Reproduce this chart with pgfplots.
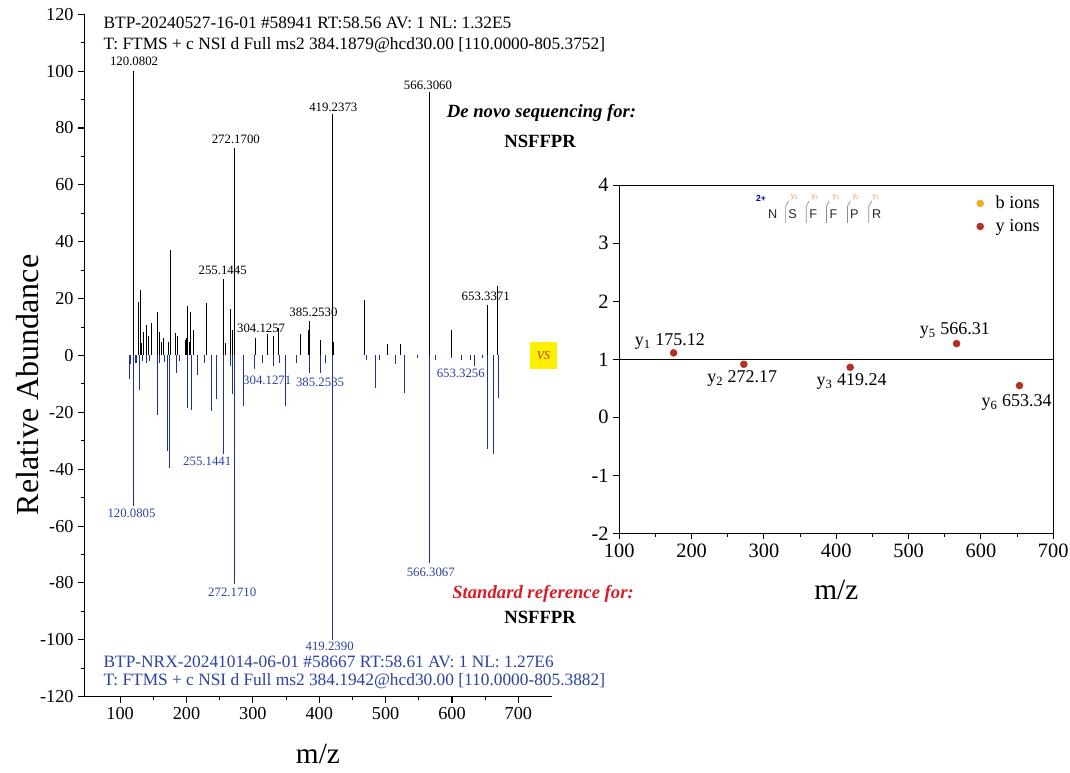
\documentclass[border=0pt]{standalone}
\usepackage{fontspec}
\setmainfont{Liberation Serif}
\newfontfamily\arialfont{Liberation Sans}
\usepackage{pgfplots}
\pgfplotsset{compat=1.18}

\definecolor{specblue}{RGB}{30,50,150}
\definecolor{txtblue}{RGB}{45,65,160}
\definecolor{refred}{RGB}{215,30,40}
\definecolor{yion}{RGB}{178,48,40}
\definecolor{bion}{RGB}{245,170,40}
\definecolor{fragorange}{RGB}{235,150,90}
\definecolor{vsyellow}{RGB}{255,240,0}
\definecolor{vsred}{RGB}{190,50,30}

\newcommand\peakfont{\fontsize{9.6}{11}\selectfont}
\newcommand\headfont{\fontsize{13}{15}\selectfont}
\newcommand\seqfont{\fontsize{14}{16}\selectfont\bfseries}
\newcommand\aafont{\arialfont\fontsize{9.5}{10}\selectfont}
\newcommand\fragfont{\arialfont\fontsize{5.5}{6}\selectfont}
\newcommand\ionfont{\fontsize{13.5}{16}\selectfont}

\begin{document}
\begin{tikzpicture}
% ---------------- mirror spectrum ----------------
\begin{axis}[
  scale only axis, width=350.5pt, height=511.8pt,
  xmin=46, xmax=750, ymin=-120, ymax=120,
  axis x line*=bottom, axis y line*=left,
  axis line style={line width=1pt},
  tick align=outside,
  xtick={100,200,...,700}, ytick={-120,-100,...,120},
  minor x tick num=1, minor y tick num=1,
  major tick length=4.5pt, minor tick length=2.5pt,
  every tick/.style={line width=0.8pt, black},
  tick label style={font=\fontsize{13.7}{16}\selectfont},
  /pgf/number format/assume math mode=true,
  xlabel={m/z}, ylabel={Relative Abundance},
  xlabel style={font=\fontsize{22}{26}\selectfont, at={(axis description cs:0.5,-0.084)}, anchor=center},
  ylabel style={font=\fontsize{24}{28}\selectfont, at={(axis description cs:-0.1205,0.4568)}, anchor=center},
  clip=false,
]
% sample spectrum (upward)
\addplot[ycomb, black, line width=0.75pt] coordinates {
  (120.0802,100) (128.1,18.7) (130.1,23.2) (132.1,4.5) (135.6,8.2) (140.2,10.8)
  (143.2,7) (147.7,11.5) (156.2,15.3) (158.7,8.2) (162.2,4.6) (165.8,6)
  (173.3,4.6) (175.3,37.1) (183.3,7.8) (186.3,7) (197.9,5.3) (199.4,6)
  (202.0,17.3) (204.4,4.6) (206.5,15.2) (211.0,8.8) (230.6,18.4)
  (255.1445,27) (258.7,4.5) (266.2,16.2) (269.7,9.1) (272.1700,73)
  (304.1257,6) (321.9,7.6) (331.5,6.9) (338.5,9.6) (371.6,7.4)
  (383.5,9) (385.2530,12.2) (401.2,5.3) (419.2373,85) (421.5,4.6)
  (468.5,19.6) (502.6,3.9) (521.7,3.9) (566.3060,92.5) (598.6,9)
  (653.3371,17.7) (668.3,24.6)
};
% reference spectrum (downward)
\addplot[ycomb, specblue, line width=0.75pt] coordinates {
  (113.4,-8.2) (116.0,-3.0) (120.0805,-53) (122.5,-2.5) (125.3,-2.6) (129.0,-12.3)
  (134.0,-2.0) (140.4,-2.6) (145.0,-2.0) (156.5,-21.1) (160.0,-2.5) (167.2,-2.3)
  (171.5,-33.6) (174.2,-39.5) (184.5,-6.3) (190.0,-2.0) (201.7,-18.4)
  (207.1,-19.3) (216.7,-7) (227.4,-2.6) (237.7,-19.5) (244.8,-15.2)
  (255.1441,-34.8) (266.8,-3.8) (270.0,-13.4) (272.1710,-80.5)
  (285.6,-17.8) (302.8,-4.9) (314.6,-2.6) (331.4,-3.8) (340.0,-2.5)
  (349.6,-17.8) (365.7,-2.6) (385.2535,-6.3) (402.3,-6.3) (409.4,-2.6)
  (419.2390,-100) (471.1,-1.5) (484.1,-11.4) (491.0,-1.5) (515.3,-3.1)
  (528.7,-13.1) (548.7,-1.0) (566.3067,-73) (575.5,-1.5) (599.8,-1.0)
  (614.8,-1.5) (628.3,-1.5) (633.6,-3.7) (645.4,-1.0) (653.3256,-33)
  (662.1,-34.8) (670.3,-14.9)
};
% peak annotations, sample
\node[font=\peakfont] at (axis cs:121,103.3) {120.0802};
\node[font=\peakfont] at (axis cs:274.3,75.9) {272.1700};
\node[font=\peakfont] at (axis cs:254.5,30) {255.1445};
\node[font=\peakfont] at (axis cs:312.4,9.5) {304.1257};
\node[font=\peakfont] at (axis cs:391.2,15.2) {385.2530};
\node[font=\peakfont] at (axis cs:421.2,87.4) {419.2373};
\node[font=\peakfont] at (axis cs:563.8,94.9) {566.3060};
\node[font=\peakfont] at (axis cs:650.8,20.8) {653.3371};
% peak annotations, reference
\node[font=\peakfont, txtblue] at (axis cs:117.2,-55.5) {120.0805};
\node[font=\peakfont, txtblue] at (axis cs:231.2,-37.4) {255.1441};
\node[font=\peakfont, txtblue] at (axis cs:321.6,-8.7) {304.1271};
\node[font=\peakfont, txtblue] at (axis cs:401.2,-9.3) {385.2535};
\node[font=\peakfont, txtblue] at (axis cs:613.2,-6.4) {653.3256};
\node[font=\peakfont, txtblue] at (axis cs:268.9,-83.2) {272.1710};
\node[font=\peakfont, txtblue] at (axis cs:415.7,-102.4) {419.2390};
\node[font=\peakfont, txtblue] at (axis cs:568,-76.2) {566.3067};
% scan headers
\node[anchor=west, inner sep=0, font=\headfont] at (axis cs:74.8,117.0) {BTP-20240527-16-01 \#58941 RT:58.56 AV: 1 NL: 1.32E5};
\node[anchor=west, inner sep=0, font=\headfont] at (axis cs:74.8,109.3) {T: FTMS + c NSI d Full ms2 384.1879@hcd30.00 [110.0000-805.3752]};
\node[anchor=west, inner sep=0, font=\headfont, txtblue] at (axis cs:74.8,-107.6) {BTP-NRX-20241014-06-01 \#58667 RT:58.61 AV: 1 NL: 1.27E6};
\node[anchor=west, inner sep=0, font=\headfont, txtblue] at (axis cs:74.8,-114.6) {T: FTMS + c NSI d Full ms2 384.1942@hcd30.00 [110.0000-805.3882]};
% sequence captions
\node[font=\seqfont\itshape] at (axis cs:734.9,85.2) {De novo sequencing for:};
\node[font=\seqfont] at (axis cs:732.6,75.2) {NSFFPR};
\node[font=\seqfont\itshape, refred] at (axis cs:737.1,-83.7) {Standard reference for:};
\node[font=\seqfont] at (axis cs:732.6,-92.1) {NSFFPR};
\node[fill=vsyellow, minimum size=20pt, inner sep=0, font=\fontsize{9}{10}\selectfont\itshape, text=vsred] at (axis cs:737.9,0) {VS};
\end{axis}

% ---------------- ion deviation panel ----------------
\begin{axis}[
  at={(401.25pt,122.55pt)}, anchor=south west,
  scale only axis, width=325.5pt, height=261pt,
  xmin=100, xmax=700, ymin=-2, ymax=4,
  xtick={100,200,...,700}, ytick={-2,-1,...,4},
  minor x tick num=1,
  xtick pos=bottom, ytick pos=left, tick align=outside,
  axis line style={line width=1pt},
  major tick length=4.5pt, minor tick length=2.5pt,
  every tick/.style={line width=0.8pt, black},
  tick label style={font=\fontsize{15.3}{18}\selectfont},
  /pgf/number format/assume math mode=true,
  xlabel={m/z},
  xlabel style={font=\fontsize{22}{26}\selectfont, at={(axis description cs:0.5,-0.163)}, anchor=center},
  legend style={draw=none, fill=none, at={(axis description cs:0.985,0.985)}, anchor=north east,
    font=\fontsize{13.7}{16}\selectfont, row sep=2.5pt,
    /tikz/every odd column/.append style={column sep=7pt}},
  legend cell align=left,
  clip=false,
]
\addplot[black, line width=0.8pt, forget plot] coordinates {(100,1) (700,1)};
\addlegendimage{only marks, mark=*, mark size=2.6pt, color=bion}
\addlegendentry{b ions}
\addplot[only marks, mark=*, mark size=2.6pt, color=yion] coordinates {
  (175.12,1.11) (272.17,0.914) (419.24,0.862) (566.31,1.27) (653.34,0.546)
};
\addlegendentry{y ions}
\node[font=\ionfont] at (axis cs:170,1.30) {y\textsubscript{1} 175.12};
\node[font=\ionfont] at (axis cs:270,0.667) {y\textsubscript{2} 272.17};
\node[font=\ionfont] at (axis cs:421.3,0.61) {y\textsubscript{3} 419.24};
\node[font=\ionfont] at (axis cs:564.1,1.49) {y\textsubscript{5} 566.31};
\node[font=\ionfont] at (axis cs:649.4,0.247) {y\textsubscript{6} 653.34};
% fragment map of the sequence
\node[font=\arialfont\bfseries\fontsize{6.5}{7}\selectfont, blue!75!black] at (axis cs:296,3.77) {2+};
\node[font=\aafont, black!85] at (axis cs:312.1,3.50) {N};
\node[font=\aafont, black!85] at (axis cs:339.7,3.50) {S};
\node[font=\aafont, black!85] at (axis cs:368.3,3.50) {F};
\node[font=\aafont, black!85] at (axis cs:396.0,3.50) {F};
\node[font=\aafont, black!85] at (axis cs:425.0,3.50) {P};
\node[font=\aafont, black!85] at (axis cs:455.8,3.50) {R};
\node[font=\fragfont, fragorange] at (axis cs:342.2,3.80) {y\textsubscript{5}};
\node[font=\fragfont, fragorange] at (axis cs:370.8,3.80) {y\textsubscript{4}};
\node[font=\fragfont, fragorange] at (axis cs:399.9,3.80) {y\textsubscript{3}};
\node[font=\fragfont, fragorange] at (axis cs:427.5,3.80) {y\textsubscript{2}};
\node[font=\fragfont, fragorange] at (axis cs:455.1,3.80) {y\textsubscript{1}};
\draw[black!45, line width=0.5pt] (axis cs:330,3.35) -- (axis cs:330,3.64) -- (axis cs:334,3.73);
\draw[black!45, line width=0.5pt] (axis cs:358.5,3.35) -- (axis cs:358.5,3.64) -- (axis cs:362.5,3.73);
\draw[black!45, line width=0.5pt] (axis cs:386.5,3.35) -- (axis cs:386.5,3.64) -- (axis cs:390.5,3.73);
\draw[black!45, line width=0.5pt] (axis cs:415.5,3.35) -- (axis cs:415.5,3.64) -- (axis cs:419.5,3.73);
\draw[black!45, line width=0.5pt] (axis cs:445,3.35) -- (axis cs:445,3.64) -- (axis cs:449,3.73);
\end{axis}
\pgfresetboundingbox
\path[use as bounding box] (-63.2pt,-56.5pt) rectangle (739.3pt,522.5pt);
\end{tikzpicture}
\end{document}
